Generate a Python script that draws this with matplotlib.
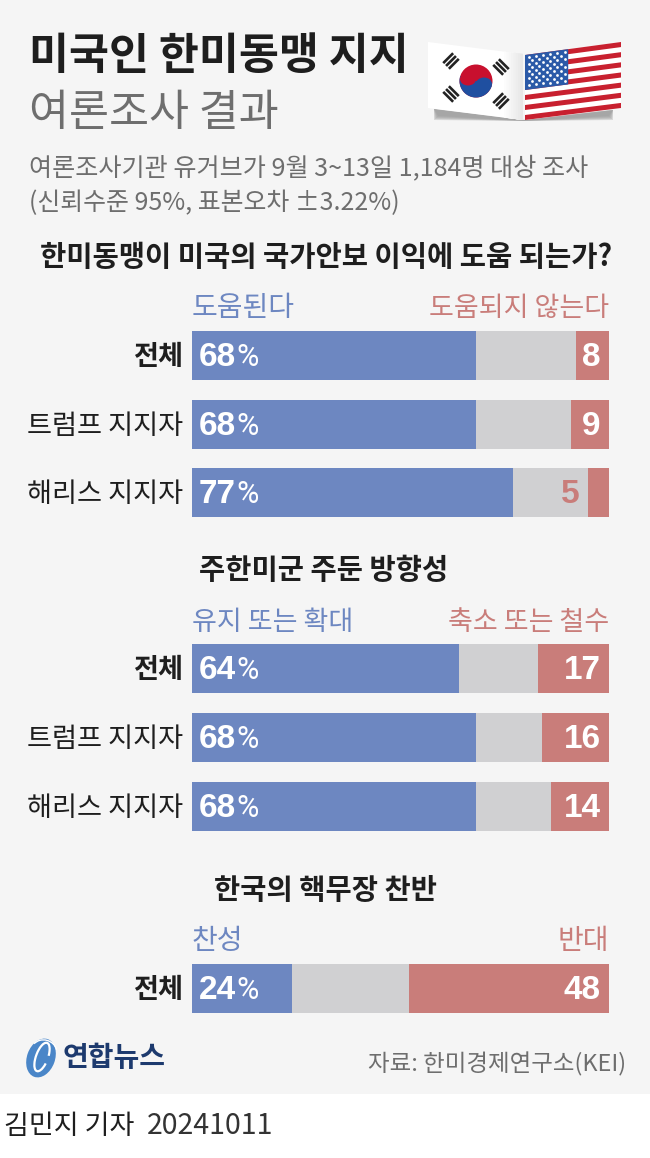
#!/usr/bin/env python3
"""Yonhap infographic: US public support for the Korea-US alliance."""

import matplotlib
matplotlib.use('Agg')
import matplotlib.pyplot as plt
from matplotlib.patches import Polygon, Rectangle, Ellipse, Arc
import numpy as np

plt.rcParams['font.family'] = ['Noto Sans CJK KR', 'DejaVu Sans']

W, H = 650, 1158
BLUE = '#6D87C1'
GREY = '#D0D0D2'
RED = '#C97D7A'
BG = '#F5F5F5'
INK = '#1E1E1E'
SUB = '#6E6E6E'

# --- data ---
GROUPS_1 = ['전체', '트럼프 지지자', '해리스 지지자']
YES_1 = [68, 68, 77]
NO_1 = [8, 9, 5]
GROUPS_2 = ['전체', '트럼프 지지자', '해리스 지지자']
YES_2 = [64, 68, 68]
NO_2 = [17, 16, 14]
GROUPS_3 = ['전체']
YES_3 = [24]
NO_3 = [48]

fig = plt.figure(figsize=(W / 100, H / 100), dpi=100, facecolor='white')

# overlay in pixel coordinates for text and artwork
bg = fig.add_axes([0, 0, 1, 1])
bg.set_xlim(0, W)
bg.set_ylim(H, 0)
bg.axis('off')
bg.add_patch(Rectangle((0, 0), W, 1094, color=BG, lw=0))


def T(x, y, s, px, color=INK, weight='regular', ha='left'):
    bg.text(x, y, s, fontsize=px * 0.72, color=color, fontweight=weight,
            ha=ha, va='center')


def panel(top, bottom, groups, yes, no):
    ax = fig.add_axes([192 / W, 1 - bottom / H, 417 / W, (bottom - top) / H])
    ax.set_xlim(0, 100)
    ax.set_ylim(len(groups) - 0.5, -0.5)
    ax.axis('off')
    ys = np.arange(len(groups))
    h = 49 / ((bottom - top) / len(groups))
    ax.barh(ys, 100, height=h, color=GREY, lw=0)
    ax.barh(ys, yes, height=h, color=BLUE, lw=0)
    ax.barh(ys, no, left=[100 - n for n in no], height=h, color=RED, lw=0)
    num = dict(fontsize=24, fontweight='bold', family='Liberation Sans', va='center')
    for i, g in enumerate(groups):
        ypx = top + (i + 0.5) * (bottom - top) / len(groups)
        bold = g == '전체'
        T(183, ypx + 2, g, 27.2, weight='bold' if bold else 'regular', ha='right')
        t = ax.text(1.7, i + 0.03, f'{yes[i]}', color='white', ha='left', **num)
        ax.annotate('%', xy=(1, 0.5), xycoords=t, va='center', ha='left', family='Roboto',
                    fontsize=22, color='white', fontweight='regular')
        if no[i] < 8:
            ax.text(100 - no[i] - 2, i + 0.03, f'{no[i]}', color=RED, ha='right', **num)
        else:
            ax.text(98, i + 0.03, f'{no[i]}', color='white', ha='right', **num)


def warp(quad, u, v):
    # bilinear map of the unit square onto a flag quad
    a, b, c, d = [np.array(p, float) for p in quad]
    return (a * (1 - u) * (1 - v) + b * u * (1 - v) + c * u * v + d * (1 - u) * v)


def flags():
    for k in range(5):
        bg.add_patch(Polygon([(434, 109), (524, 120), (613, 110), (613 - k, 120 - k), (524, 121), (434 + k, 120 - k)],
                             color='#999999', alpha=0.3, lw=0))
    kr = [(428, 42), (523, 54), (523, 120), (428, 108)]
    bg.add_patch(Polygon(kr, color='white', lw=0))
    # fold shading towards the right edge
    for k in range(8):
        u0 = 0.8 + k * 0.025
        c = str(1 - 0.012 * (k + 1))
        bg.add_patch(Polygon([warp(kr, u0, 0), kr[1], kr[2], warp(kr, u0, 1)], color=c, lw=0))
    bg.add_patch(Ellipse((476, 81), 33, 33, color='#C8102E', lw=0))
    th = np.linspace(0, np.pi, 40)
    blue = [(476 + 16.5 * np.cos(a + 0.3), 81 + 16.5 * np.sin(a + 0.3)) for a in th]
    bg.add_patch(Polygon(blue, color='#1F4FA0', lw=0))
    bg.add_patch(Ellipse((468, 79), 16, 13, color='#C8102E', lw=0))
    bg.add_patch(Ellipse((484, 84), 16, 13, color='#1F4FA0', lw=0))
    for cx, cy, ang in [(451, 61, -45), (501, 67, 45), (451, 94, 45), (501, 101, -45)]:
        r = np.deg2rad(ang)
        ux, uy = np.cos(r), np.sin(r)
        for k in (-4, 0, 4):
            x0 = cx + k * uy
            y0 = cy - k * ux
            bg.plot([x0 - 7 * ux, x0 + 7 * ux], [y0 - 7 * uy, y0 + 7 * uy],
                    color='#222222', lw=1.9, solid_capstyle='butt')
    us = [(525, 55), (621, 42), (621, 108), (525, 120)]
    bg.add_patch(Polygon(us, color='white', lw=0))
    for i in range(0, 13, 2):
        v0, v1 = i / 13, (i + 1) / 13
        bg.add_patch(Polygon([warp(us, 0, v0), warp(us, 1, v0), warp(us, 1, v1), warp(us, 0, v1)],
                             color='#C8202F', lw=0))
    bg.add_patch(Polygon([warp(us, 0, 0), warp(us, .45, 0), warp(us, .45, 7 / 13), warp(us, 0, 7 / 13)],
                         color='#2B5AA8', lw=0))
    sx, sy = [], []
    for r in range(9):
        for c in range(6 if r % 2 == 0 else 5):
            u = (0.5 + c + (0 if r % 2 == 0 else 0.5)) / 6 * 0.45
            p = warp(us, u, (r + 0.8) / 10 * 7 / 13)
            sx.append(p[0])
            sy.append(p[1])
    bg.scatter(sx, sy, s=4, color='white', lw=0, zorder=5)


def logo():
    bg.add_patch(Ellipse((41, 1058), 28, 40, angle=20, color='#4A86C8', lw=0))
    bg.add_patch(Arc((42, 1057), 12, 30, angle=20, theta1=40, theta2=330, ec='white', lw=1.6))
    bg.add_patch(Arc((44, 1052), 26, 24, angle=20, theta1=200, theta2=330, ec='white', lw=1.0))
    T(63, 1058, '연합뉴스', 28, color='#1D3A6E', weight='black')


# --- header ---
T(29, 56, '미국인 한미동맹 지지', 43.5, weight='bold')
T(29, 114, '여론조사 결과', 43.5, color=SUB, weight='light')
T(29, 168, '여론조사기관 유거브가 9월 3~13일 1,184명 대상 조사', 25.1, color=SUB, weight='light')
T(29, 203, '(신뢰수준 95%, 표본오차 ±3.22%)', 24.9, color=SUB, weight='light')
flags()

# --- panels ---
T(326, 257, '한미동맹이 미국의 국가안보 이익에 도움 되는가?', 28.6, weight='bold', ha='center')
T(192, 308, '도움된다', 28, color=BLUE)
T(609, 308, '도움되지 않는다', 27, color=RED, ha='right')
panel(331 - 10, 517 + 10, GROUPS_1, YES_1, NO_1)

T(324, 571, '주한미군 주둔 방향성', 28.5, weight='bold', ha='center')
T(192, 622, '유지 또는 확대', 27, color=BLUE)
T(609, 622, '축소 또는 철수', 27, color=RED, ha='right')
panel(644 - 10, 831 + 10, GROUPS_2, YES_2, NO_2)

T(325, 891, '한국의 핵무장 찬반', 28.5, weight='bold', ha='center')
T(192, 941, '찬성', 28, color=BLUE)
T(609, 941, '반대', 28, color=RED, ha='right')
panel(964 - 10, 1013 + 10, GROUPS_3, YES_3, NO_3)

# --- footer ---
logo()
T(626, 1064, '자료: 한미경제연구소(KEI)', 23.5, color=SUB, weight='light', ha='right')
T(4, 1126, '김민지 기자', 27, weight='medium')
T(147, 1126, '20241011', 28.5, color='#333333', weight='light')

fig.savefig('out.png', dpi=100, facecolor='white')
plt.close(fig)
